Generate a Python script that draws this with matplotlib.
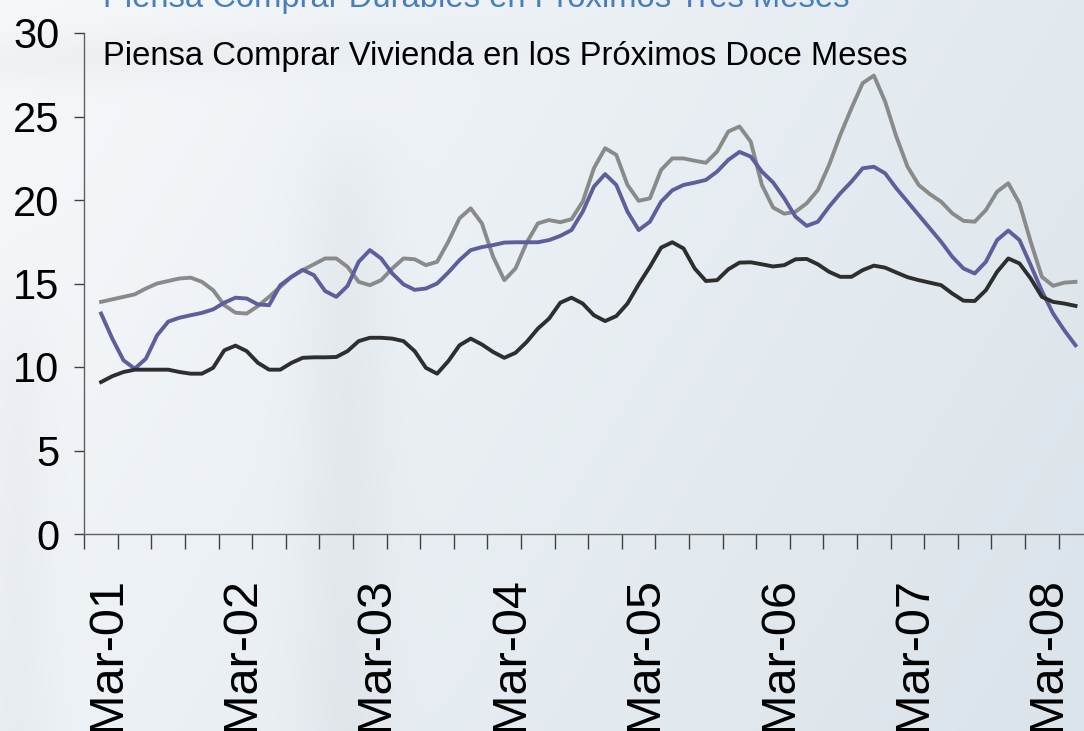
import matplotlib
matplotlib.use("Agg")
import matplotlib.pyplot as plt
import matplotlib.transforms as mtransforms
from matplotlib import font_manager
import numpy as np
import pandas as pd

# Monthly series, Mar-01 .. Jun-08
months = pd.date_range("2001-03-01", periods=88, freq="MS")

gray_series = [
    13.9, 14.05, 14.2, 14.35, 14.7, 15.0, 15.15, 15.3, 15.35, 15.1,
    14.6, 13.7, 13.25, 13.2, 13.65, 14.2, 14.8, 15.4, 15.8, 16.15,
    16.5, 16.5, 16.0, 15.1, 14.9, 15.2, 15.9, 16.5, 16.45, 16.1,
    16.3, 17.5, 18.9, 19.5, 18.6, 16.6, 15.2, 15.9, 17.45, 18.6,
    18.8, 18.67, 18.85, 19.9, 21.9, 23.1, 22.7, 20.9, 19.95, 20.1,
    21.8, 22.49, 22.49, 22.35, 22.23, 22.9, 24.1, 24.4, 23.5, 20.9,
    19.55, 19.18, 19.3, 19.8, 20.6, 22.1, 23.9, 25.5, 27.0, 27.45,
    25.9, 23.8, 22.0, 20.9, 20.35, 19.9, 19.2, 18.75, 18.7, 19.4,
    20.5, 21.0, 19.8, 17.5, 15.4, 14.86, 15.05, 15.1,
]

durables = [
    13.2, 11.7, 10.4, 9.9, 10.5, 11.9, 12.72, 12.95, 13.1, 13.24,
    13.45, 13.85, 14.15, 14.1, 13.75, 13.7, 14.9, 15.4, 15.82, 15.5,
    14.55, 14.2, 14.85, 16.3, 17.0, 16.5, 15.6, 14.95, 14.62, 14.7,
    15.0, 15.66, 16.4, 17.0, 17.18, 17.3, 17.45, 17.47, 17.47, 17.47,
    17.6, 17.85, 18.2, 19.3, 20.8, 21.55, 20.9, 19.3, 18.2, 18.7,
    19.9, 20.58, 20.9, 21.04, 21.2, 21.7, 22.4, 22.88, 22.6, 21.7,
    21.05, 20.1, 19.0, 18.45, 18.7, 19.6, 20.4, 21.1, 21.9, 21.99,
    21.6, 20.7, 19.9, 19.1, 18.3, 17.5, 16.6, 15.9, 15.6, 16.3,
    17.6, 18.17, 17.6, 16.1, 14.55, 13.2, 12.2, 11.3,
]

vivienda = [
    9.1, 9.45, 9.7, 9.84, 9.84, 9.84, 9.84, 9.7, 9.6, 9.6,
    9.95, 11.0, 11.28, 10.95, 10.25, 9.84, 9.84, 10.25, 10.55, 10.58,
    10.58, 10.6, 10.95, 11.55, 11.75, 11.75, 11.7, 11.55, 10.95, 9.95,
    9.6, 10.35, 11.3, 11.7, 11.35, 10.9, 10.55, 10.85, 11.5, 12.3,
    12.9, 13.85, 14.15, 13.8, 13.1, 12.75, 13.05, 13.8, 14.95, 16.0,
    17.15, 17.47, 17.1, 15.9, 15.15, 15.2, 15.85, 16.25, 16.27, 16.15,
    16.02, 16.1, 16.45, 16.47, 16.15, 15.7, 15.4, 15.4, 15.8, 16.07,
    15.95, 15.66, 15.38, 15.2, 15.05, 14.9, 14.4, 13.97, 13.95, 14.6,
    15.7, 16.5, 16.2, 15.3, 14.2, 13.9, 13.8, 13.66,
]

title_durables = "Piensa Comprar Durables en Próximos Tres Meses"
title_vivienda = "Piensa Comprar Vivienda en los Próximos Doce Meses"
y_ticks = [0, 5, 10, 15, 20, 25, 30]


def pick_font(names):
    for name in names:
        try:
            font_manager.findfont(font_manager.FontProperties(family=name),
                                  fallback_to_default=False)
            return name
        except ValueError:
            continue
    return "DejaVu Sans"


regular = pick_font(["Liberation Sans", "Arial", "DejaVu Sans"])

W, H = 1084, 731
fig = plt.figure(figsize=(W / 100, H / 100), dpi=100)

# soft gradient background with a faint watermark
bg = fig.add_axes([0, 0, 1, 1], zorder=-10)
px, py = np.meshgrid(np.linspace(0, W, 542), np.linspace(0, H, 366))  # py from top
t = np.clip(0.75 * px / W + 0.3 * py / H, 0, 1)
c0 = np.array([0.965, 0.975, 0.985])
c1 = np.array([0.86, 0.895, 0.92])
img = c0[None, None, :] * (1 - t[..., None]) + c1[None, None, :] * t[..., None]
shade = 0.03 * np.exp(-((px - 345) / 45) ** 2) * (1 / (1 + np.exp(-(py - 150) / 25)))
shade += 0.025 * np.exp(-((py - 60 + 0.04 * px) / 25) ** 2) * np.exp(-(px / 450) ** 4)
shade += 0.025 * np.exp(-((px - 15) / 35) ** 2) * (1 / (1 + np.exp(-(py - 320) / 30)))
img = img - shade[..., None]
bg.imshow(img, aspect="auto", extent=[0, 1, 0, 1], origin="upper")
bg.axis("off")

ax = fig.add_axes([84.3 / W, 1 - 534 / H, 1 - 84.3 / W, (534 - 33) / H])
ax.patch.set_alpha(0)

x = np.arange(len(months))
ax.plot(x, gray_series, color="#8a8a8a", lw=2.8, solid_joinstyle="round")
ax.plot(x, durables, color="#5e5e9c", lw=2.8, solid_joinstyle="round")
ax.plot(x, vivienda, color="#2e2e2e", lw=2.8, solid_joinstyle="round")

ax.set_xlim(-1.5, 87.76)
ax.set_ylim(0, 30)

for side in ["top", "right"]:
    ax.spines[side].set_visible(False)
for side in ["left", "bottom"]:
    ax.spines[side].set_color("#606060")
    ax.spines[side].set_linewidth(1.0)

ax.set_yticks(y_ticks)
ax.set_yticklabels([str(v) for v in y_ticks], fontsize=30, family=regular)
ax.tick_params(axis="y", direction="out", length=7, width=1, color="#404040", pad=11)

label_pos = [i for i in range(len(months)) if months[i].month == 3]
ax.set_xticks(label_pos)
ax.set_xticklabels([m.strftime("%b-%y") for m in months[label_pos]],
                   rotation=90, fontsize=35, family=regular)
ax.set_xticks(np.arange(-1.5, 88, 3), minor=True)
ax.tick_params(axis="x", which="major", length=0, pad=31)
ax.tick_params(axis="x", which="minor", direction="out", length=11, width=1,
               color="#404040")
shift = mtransforms.ScaledTranslation(6 / 100, 0, fig.dpi_scale_trans)
for lab in ax.get_xticklabels():
    lab.set_transform(lab.get_transform() + shift)

fig.text(103 / W, 1 - 7 / H, title_durables, color="#4a7ebb",
         fontsize=23.6, family=regular, va="baseline")
fig.text(103 / W, 1 - 65 / H, title_vivienda, color="black",
         fontsize=23.6, family=regular, va="baseline")

fig.savefig("out.png", dpi=100)
